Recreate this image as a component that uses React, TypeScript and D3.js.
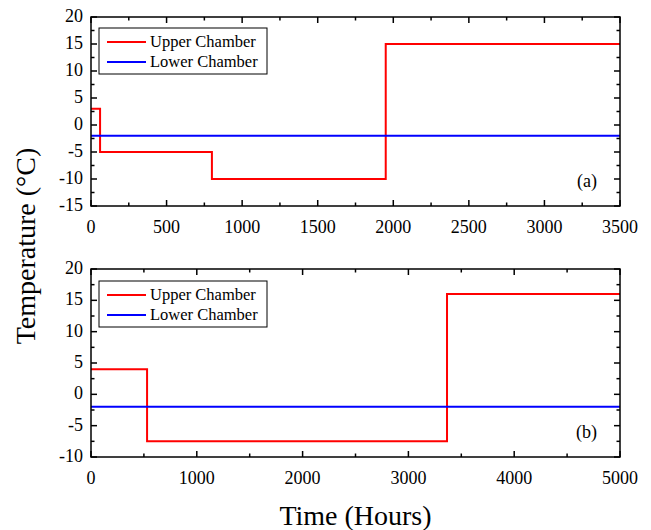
import React, { useRef, useEffect } from 'react';
import * as d3 from 'd3';

// panel (a)
const upperA_time = [0, 60, 800, 1950, 3500];
const upperA_temp = [3, -5, -10, 15, 15];
const lowerA_time = [0, 3500];
const lowerA_temp = [-2, -2];
const xTicksA = [0, 500, 1000, 1500, 2000, 2500, 3000, 3500];
const yTicksA = [-15, -10, -5, 0, 5, 10, 15, 20];

// panel (b)
const upperB_time = [0, 530, 3365, 5000];
const upperB_temp = [4, -7.5, 16, 16];
const lowerB_time = [0, 5000];
const lowerB_temp = [-2, -2];
const xTicksB = [0, 1000, 2000, 3000, 4000, 5000];
const yTicksB = [-10, -5, 0, 5, 10, 15, 20];

const seriesNames = ['Upper Chamber', 'Lower Chamber'];
const seriesColors = ['#ff0000', '#0000ff'];

const FONT = '"Liberation Serif", "Times New Roman", serif';

type Panel = {
  top: number;
  bottom: number;
  xTicks: number[];
  yTicks: number[];
  upper: [number[], number[]];
  lower: [number[], number[]];
  tag: string;
  legendY: number;
};

const panels: Panel[] = [
  { top: 17, bottom: 206, xTicks: xTicksA, yTicks: yTicksA, upper: [upperA_time, upperA_temp], lower: [lowerA_time, lowerA_temp], tag: '(a)', legendY: 28 },
  { top: 269, bottom: 457, xTicks: xTicksB, yTicks: yTicksB, upper: [upperB_time, upperB_temp], lower: [lowerB_time, lowerB_temp], tag: '(b)', legendY: 281 },
];

const App = () => {
  const svgRef = useRef<SVGSVGElement>(null);

  useEffect(() => {
    const svg = d3.select(svgRef.current);
    svg.selectAll('*').remove();

    const left = 91;
    const right = 620;

    panels.forEach(p => {
      const xs = p.xTicks;
      const ys = p.yTicks;
      const x = d3.scaleLinear().domain([xs[0], xs[xs.length - 1]]).range([left, right]);
      const y = d3.scaleLinear().domain([ys[0], ys[ys.length - 1]]).range([p.bottom, p.top]);
      const g = svg.append('g');

      const xStep = xs[1] - xs[0];
      const yStep = ys[1] - ys[0];
      const xMinor = d3.range(xs[0] + xStep / 2, xs[xs.length - 1], xStep);
      const yMinor = d3.range(ys[0] + yStep / 2, ys[ys.length - 1], yStep);

      // inward ticks on all four sides
      const tick = (x1: number, y1: number, x2: number, y2: number) =>
        g.append('line').attr('x1', x1).attr('y1', y1).attr('x2', x2).attr('y2', y2)
          .attr('stroke', '#000').attr('stroke-width', 1.5);
      xs.forEach(v => { tick(x(v), p.bottom, x(v), p.bottom - 6); tick(x(v), p.top, x(v), p.top + 6); });
      xMinor.forEach(v => { tick(x(v), p.bottom, x(v), p.bottom - 3.5); tick(x(v), p.top, x(v), p.top + 3.5); });
      ys.forEach(v => { tick(left, y(v), left + 6, y(v)); tick(right, y(v), right - 6, y(v)); });
      yMinor.forEach(v => { tick(left, y(v), left + 3.5, y(v)); tick(right, y(v), right - 3.5, y(v)); });

      // tick labels
      xs.forEach(v => {
        g.append('text').attr('x', x(v)).attr('y', p.bottom + 27).attr('text-anchor', 'middle')
          .style('font-family', FONT).style('font-size', '18px').text(v);
      });
      ys.forEach(v => {
        g.append('text').attr('x', left - 8).attr('y', y(v) + 5).attr('text-anchor', 'end')
          .style('font-family', FONT).style('font-size', '18px').text(v);
      });

      // lines
      const line = d3.line<[number, number]>().x(d => x(d[0])).y(d => y(d[1])).curve(d3.curveStepAfter);
      [p.upper, p.lower].forEach((s, i) => {
        const pts = s[0].map((t, k) => [t, s[1][k]] as [number, number]);
        g.append('path').attr('d', line(pts)).attr('fill', 'none')
          .attr('stroke', seriesColors[i]).attr('stroke-width', 2);
      });

      // frame
      g.append('rect').attr('x', left).attr('y', p.top).attr('width', right - left).attr('height', p.bottom - p.top)
        .attr('fill', 'none').attr('stroke', '#000').attr('stroke-width', 1.5);

      // legend
      const lx = 99;
      const ly = p.legendY;
      g.append('rect').attr('x', lx).attr('y', ly).attr('width', 168).attr('height', 46)
        .attr('fill', '#fff').attr('stroke', '#000').attr('stroke-width', 1);
      seriesNames.forEach((name, i) => {
        const cy = ly + 14 + i * 20;
        g.append('line').attr('x1', lx + 8).attr('x2', lx + 47).attr('y1', cy).attr('y2', cy)
          .attr('stroke', seriesColors[i]).attr('stroke-width', 2);
        g.append('text').attr('x', lx + 51).attr('y', cy + 5)
          .style('font-family', FONT).style('font-size', '16.5px').text(name);
      });

      // panel tag
      g.append('text').attr('x', 597).attr('y', p.bottom - 19).attr('text-anchor', 'end')
        .style('font-family', FONT).style('font-size', '18px').text(p.tag);
    });

    // axis titles
    svg.append('text').attr('transform', 'translate(35,246) rotate(-90)').attr('text-anchor', 'middle')
      .style('font-family', FONT).style('font-size', '28px').text('Temperature (°C)');
    svg.append('text').attr('x', (left + right) / 2).attr('y', 525).attr('text-anchor', 'middle')
      .style('font-family', FONT).style('font-size', '28px').text('Time (Hours)');
  }, []);

  return <svg ref={svgRef} width={651} height={530} style={{ position: 'absolute', left: 0, top: 0, background: '#fff' }}></svg>;
};

export default App;
